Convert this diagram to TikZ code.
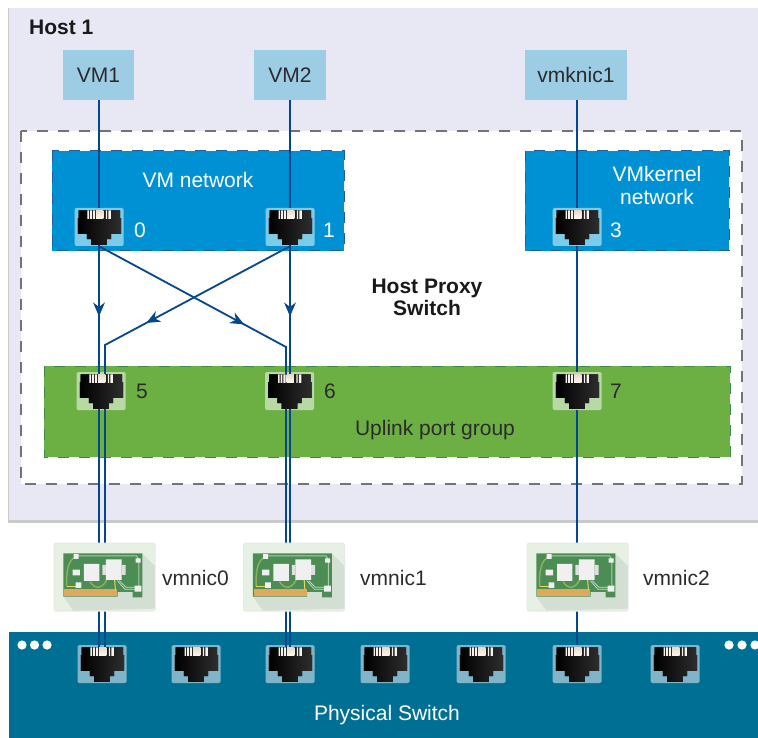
\documentclass[tikz,border=0pt]{standalone}
\usepackage{fontspec}
\setmainfont{Liberation Sans}
\usetikzlibrary{arrows.meta,decorations.markings}
\definecolor{hostbg}{HTML}{E8E8F4}
\definecolor{hostedge}{HTML}{C9C9CC}
\definecolor{vmbox}{HTML}{9CCDE5}
\definecolor{netblue}{HTML}{0091D5}
\definecolor{netedge}{HTML}{1F5F96}
\definecolor{upgreen}{HTML}{6CB044}
\definecolor{upedge}{HTML}{3F8A4A}
\definecolor{swblue}{HTML}{006F94}
\definecolor{wire}{HTML}{05478F}
\definecolor{txt}{HTML}{2B2B2B}
\definecolor{cardbg}{HTML}{E6F1E4}
\definecolor{cardsh}{HTML}{D3DFD3}
\definecolor{board}{HTML}{4C8C55}
\definecolor{gold}{HTML}{E0A85C}
\definecolor{pblue}{HTML}{7CCBE9}
\definecolor{pgreen}{HTML}{B7D9A3}
\definecolor{psw}{HTML}{7FB4C9}
\definecolor{traceA}{HTML}{8FB05A}
\definecolor{traceB}{HTML}{A9CFA6}
\definecolor{traceC}{HTML}{E7D95A}
\definecolor{traceD}{HTML}{C7DFC7}
\tikzset{
  lbl/.style={font=\fontsize{21}{25}\selectfont,text=txt,inner sep=0pt,align=center},
  wlbl/.style={lbl,text=white},
  blbl/.style={lbl,font=\fontsize{21}{25}\selectfont\bfseries,text=black!90},
  vmnode/.style={fill=vmbox,inner sep=0pt,minimum height=50pt,font=\fontsize{21}{25}\selectfont,text=txt},
  portbase/.style={rounded corners=1.5pt,minimum width=49pt,minimum height=38pt,inner sep=0pt},
  bluep/.style={portbase,fill=pblue},
  greenp/.style={portbase,fill=pgreen},
  swp/.style={portbase,fill=psw},
  cardnode/.style={minimum width=101pt,minimum height=68pt,inner sep=0pt,rounded corners=1.5pt,fill=cardbg,draw=gray!18,line width=1pt},
  wireline/.style={draw=wire,line width=1.8pt},
  arrowed/.style={wireline,postaction={decorate},decoration={markings,mark=at position #1 with {\arrow[wire,line width=0pt]{Stealth[length=14pt,width=12pt]}}}},
  jackpic/.pic={
    \begin{scope}[x=.3333pt,y=-.3333pt,xshift=-58.83pt,yshift=37.17pt]
      \fill[left color=black,right color=black!82!white]
        (115,62)--(240,62)--(240,85)--(243,85)--(243,132)--(213,132)--(213,148)--(200,148)--(200,165)--(153,165)--(153,148)--(140,148)--(140,132)--(113,132)--(113,85)--(115,85)--cycle;
      \fill[white!90!brown] (142,62) rectangle (147,87) (150,62) rectangle (155,87) (158,62) rectangle (165,87);
      \fill[top color=white!70!brown,bottom color=white!95!brown] (168,62) rectangle (190,87);
      \fill[white!90!brown] (197,62) rectangle (201,87) (205,62) rectangle (212,87);
    \end{scope}
  },
  nicpic/.pic={
    \begin{scope}[x=.3333pt,y=-.3333pt,xshift=-64.5pt,yshift=47pt]
      \fill[cardsh] (307,70)--(345,108)--(345,236)--(100,242)--(70,200)--cycle;
      \fill[board] (70,70)--(307,70)--(307,202)--(278,202)--(278,186)--(233,186)--(233,200)--(70,200)--cycle;
      \fill[gold] (72,178) rectangle (232,198);
      \draw[line width=1.5pt,color=traceA] (108,80)..controls (85,90) and (78,120) .. (80,170);
      \draw[line width=1pt,color=traceB] (108,78)--(290,78)--(297,90)--(297,170);
      \draw[line width=1.5pt,color=traceA] (150,155)..controls (165,178) and (185,178) .. (200,150);
      \draw[line width=1pt,color=traceC] (80,170)--(115,170);
      \draw[line width=1pt,color=traceC] (224,150)--(226,178);
      \draw[line width=.7pt,color=traceD] (232,152)--(255,178)--(290,178) (238,152)--(258,172)--(290,172);
      \fill[white!88!gray] (101,72) rectangle (116,87) (287,85) rectangle (302,98)
        (98,119) rectangle (120,136) (107,157) rectangle (124,174) (284,167) rectangle (304,185)
        (132,102) rectangle (178,153) (198,88) rectangle (245,150);
      \fill[white!75!gray] (187,105) rectangle (198,135) (245,105) rectangle (257,135);
    \end{scope}
  }
}
\begin{document}
\begin{tikzpicture}[x=1pt,y=-1pt]
\useasboundingbox (0,0) rectangle (758,738);
% host
\fill[hostbg] (8,8) rectangle (758,520);
\draw[hostedge,line width=.8pt] (8,8) -- (8,520);
\draw[hostedge,line width=3pt] (8,521) -- (758,521);
\node[blbl,anchor=west] (hostlbl) at (29,27) {Host 1};
\fill[white] (21,131) rectangle (742,484);
\draw[gray!90!black,line width=1.3pt,dash pattern=on 11pt off 10pt] (21,131) rectangle (742,484);
% boxes
\fill[netblue] (52,151) rectangle (344,251);
\draw[netedge,line width=1pt,dash pattern=on 11pt off 10pt] (52,151) rectangle (344,251);
\fill[netblue] (525,151) rectangle (729,251);
\draw[netedge,line width=1pt,dash pattern=on 11pt off 10pt] (525,151) rectangle (729,251);
\fill[upgreen] (44,366) rectangle (730,457);
\draw[upedge,line width=1pt,dash pattern=on 11pt off 10pt] (44,366) rectangle (730,457);
\fill[swblue] (9,632) rectangle (758,738);
\foreach \dx in {22,34.5,47,729,742,755} \fill[white] (\dx,645) circle (4.6);
% VMs
\node[vmnode,minimum width=71pt] (vm1) at (98.5,75) {VM1};
\node[vmnode,minimum width=72pt] (vm2) at (290,75) {VM2};
\node[vmnode,minimum width=102pt] (vmk) at (576,75) {vmknic1};
% ports
\node[bluep] (p0) at (99,227) {};
\node[bluep] (p1) at (290,227) {};
\node[bluep] (p3) at (577,227) {};
\node[greenp] (p5) at (101,391) {};
\node[greenp] (p6) at (289.5,391) {};
\node[greenp] (p7) at (577,391) {};
\foreach \n/\x in {s0/102,s1/196,s2/290,s3/385,s4/481,s5/577,s6/675}
  \node[swp] (\n) at (\x,664) {};
\coordinate (benda) at (286,347);
\coordinate (bendb) at (105,345);
% connectors
\draw[wireline] (vm1.south -| p0) -- (p0);
\draw[wireline] (vm2) -- (p1);
\draw[wireline] (vmk.south -| p3) -- (p3);
\draw[arrowed=0.545] (p0.center) -- (p0.center |- p5.center);
\draw[arrowed=0.545] (p1.center) -- (p1.center |- p6.center);
\draw[wireline] (p3) -- (p7);
\draw[arrowed=0.643] (p0.south) -- (benda) -- (benda |- p6.center);
\draw[arrowed=0.637] (p1.south) -- (bendb) -- (bendb |- p5.center);
% uplink to physical
\draw[wireline] (p0.center |- p5.center) -- (p0.center |- s0.center);
\draw[wireline] (bendb |- p5.center) -- (bendb |- s0.center);
\draw[wireline] (benda |- p6.center) -- (benda |- s2.center);
\draw[wireline] (p1.center |- p6.center) -- (p1.center |- s2.center);
\draw[wireline] (p7) -- (s5);
% jacks
\foreach \n in {p0,p1,p3,p5,p6,p7,s0,s1,s2,s3,s4,s5,s6}
  \pic at (\n) {jackpic};
% nic cards
\node[cardnode] (nic0) at (104.5,577) {};
\node[cardnode] (nic1) at (294,577) {};
\node[cardnode] (nic2) at (577.5,577) {};
\foreach \n in {nic0,nic1,nic2} \pic at (\n) {nicpic};
% labels
\node[wlbl] (tvmnet) at (198,180) {VM network};
\node[wlbl] (tvmk) at (657,185.5) {VMkernel\\[-2pt]network};
\node[wlbl] (t0) at (140,230) {0};
\node[wlbl] (t1) at (329,230) {1};
\node[wlbl] (t3) at (616,230) {3};
\node[lbl] (t5) at (142,391) {5};
\node[lbl] (t6) at (330,391) {6};
\node[lbl] (t7) at (616,391) {7};
\node[blbl] (tproxy) at (427,297.5) {Host Proxy\\[-3pt]Switch};
\node[lbl] (tup) at (435,430) {Uplink port group};
\node[lbl,anchor=west] (tn0) at (162,578) {vmnic0};
\node[lbl,anchor=west] (tn1) at (360,578) {vmnic1};
\node[lbl,anchor=west] (tn2) at (643,578) {vmnic2};
\node[wlbl] (tsw) at (387,715) {Physical Switch};
\end{tikzpicture}
\end{document}
